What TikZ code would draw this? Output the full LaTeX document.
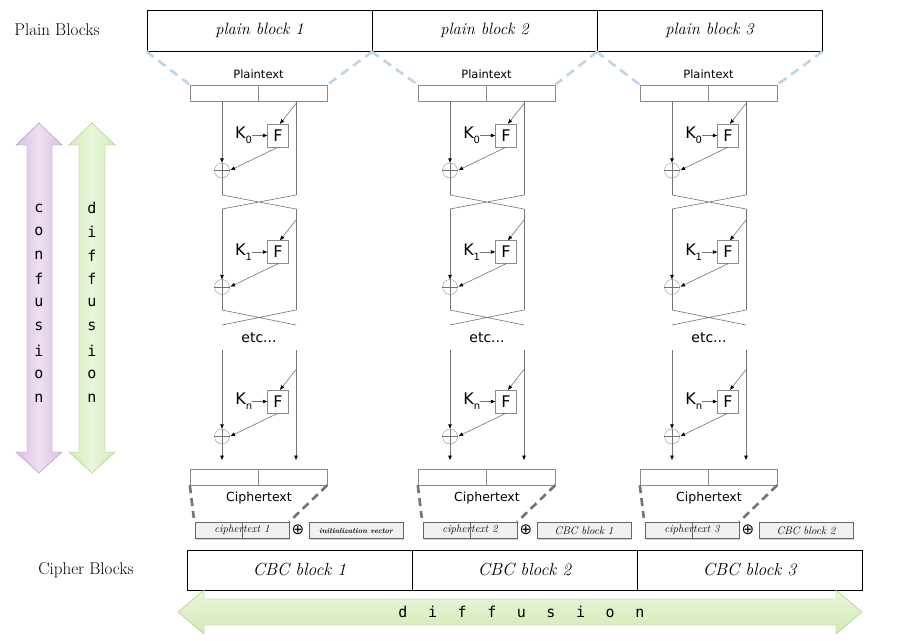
\documentclass[tikz,border=0pt]{standalone}
\usepackage{fontspec}
\newfontfamily\sansf{DejaVu Sans}
\newfontfamily\monof{DejaVu Sans Mono}
\usetikzlibrary{arrows.meta,shadows,positioning}
\definecolor{dashblue}{HTML}{BDD4EB}
\definecolor{confline}{HTML}{A98BBE}
\definecolor{conftop}{HTML}{EEDFF2}
\definecolor{confbot}{HTML}{D9C2E3}
\definecolor{difline}{HTML}{9BCB69}
\definecolor{diftop}{HTML}{EAF6DC}
\definecolor{difbot}{HTML}{D3EAB5}
\newcommand\ivtext{{\fontsize{7.5}{8}\selectfont\bfseries initialization vector}}

\begin{document}
\begin{tikzpicture}[x=1pt,y=-1pt,
  blk/.style={draw,line width=1pt,minimum width=225pt,minimum height=41pt,inner sep=0pt,font=\fontsize{16.5}{18}\selectfont\itshape},
  cbc/.style={blk,minimum height=40pt,font=\fontsize{17.5}{18}\selectfont\itshape},
  side/.style={inner sep=0pt,font=\fontsize{17}{18}\selectfont},
  bar/.style={draw=black!45,minimum width=137pt,minimum height=16pt,inner sep=0pt},
  caption/.style={inner sep=0pt,font=\sansf\fontsize{11.5}{12}\selectfont},
  fbox/.style={draw=black!45,minimum width=21pt,minimum height=23pt,inner sep=0pt,font=\sansf\fontsize{16}{16}\selectfont},
  keytxt/.style={inner sep=0pt,font=\sansf\fontsize{16}{16}\selectfont},
  xor/.style={draw=black!45,circle,minimum size=15pt,inner sep=0pt},
  wire/.style={draw=black!55,line width=0.6pt},
  arr/.style={wire,-{Triangle[length=4.5pt,width=3.5pt,black]}},
  etc/.style={inner sep=0pt,font=\sansf\fontsize{14}{14}\selectfont},
  bluedash/.style={draw=dashblue,line width=2.6pt,dash pattern=on 9pt off 6pt},
  greydash/.style={draw=black!55,line width=2.6pt,dash pattern=on 8pt off 5pt},
  smallbox/.style={draw=black!60,fill=black!6,minimum width=94pt,minimum height=16pt,inner sep=0pt,
    font=\fontsize{11}{11}\selectfont\itshape,drop shadow={shadow xshift=1pt,shadow yshift=-1.5pt,opacity=0.35}},
  spell/.style={inner sep=0pt,font=\monof\fontsize{15}{15}\selectfont}]
\useasboundingbox (0,0) rectangle (904,640);
\fill[white] (0,0) rectangle (904,640);

% block rows
\node[side] (plainlbl) at (57,30) {Plain Blocks};
\node[side] (cipherlbl) at (86,570) {Cipher Blocks};
\foreach \i in {1,2,3}
  \node[blk] (top\i) at ({147+(\i-0.5)*225},30.5) {plain block \i};
\foreach \i in {1,2,3}
  \node[cbc] (cbc\i) at ({187+(\i-0.5)*225},570) {CBC block \i};

% feistel columns
\foreach \i/\dx/\prev in {1/0/\ivtext,2/228/CBC block 1,3/450/CBC block 2}{
\begin{scope}[xshift=\dx pt]
  \node[bar] (ptb\i) at (258.5,93) {};
  \draw[black!45] (ptb\i.north) -- (ptb\i.south);
  \node[caption] (ptl\i) at (258.5,74) {Plaintext};
  \draw[bluedash] (top\i.south west) -- (ptb\i.north west);
  \draw[bluedash] (top\i.south east) -- (ptb\i.north east);
  \foreach \r/\ys/\yf/\ye/\st in {0/101/135.5/195/wire,1/209/252/310/wire,n/350/401.5/460/arr}{
    \node[fbox] (F\r\i) at (278,\yf) {F};
    \node[keytxt,left=15pt of F\r\i] (K\r\i) {K\raisebox{-5pt}{\fontsize{10}{10}\selectfont\r}};
    \node[xor] (X\r\i) at (222,\yf+35) {};
    \coordinate (ls\r\i) at (222,\ys);
    \coordinate (rs\r\i) at (296,\ys);
    \coordinate (le\r\i) at (222,\ye);
    \coordinate (re\r\i) at (296,\ye);
    \coordinate (ds\r\i) at (296,\yf-32);
    \draw[arr] (ls\r\i) -- (X\r\i.north);
    \draw[wire] (X\r\i.north) -- (X\r\i.south) (X\r\i.west) -- (X\r\i.east);
    \draw[\st] (X\r\i.south) -- (le\r\i);
    \draw[\st] (rs\r\i) -- (re\r\i);
    \draw[arr] (ds\r\i) -- ([xshift=2pt]F\r\i.north);
    \draw[arr,shorten >=1pt] (F\r\i.south) -- (X\r\i.east);
    \draw[arr] (K\r\i.east) -- (F\r\i.west);
  }
  \coordinate (lx\i) at (222,325);
  \coordinate (rx\i) at (296,325);
  \draw[wire] (le0\i) -- (rs1\i) (re0\i) -- (ls1\i);
  \draw[wire] (le1\i) -- (rx\i) (re1\i) -- (lx\i);
  \node[etc] (etc\i) at (259,338) {etc...};
  \node[bar] (ctb\i) at (258.5,477) {};
  \draw[black!45] (ctb\i.north) -- (ctb\i.south);
  \node[caption,font=\sansf\fontsize{12.5}{13}\selectfont] (ctl\i) at (259,498) {Ciphertext};
  \node[smallbox] (ct\i) at (242,530) {};
  \draw[black!60] (ct\i.north) -- (ct\i.south);
  \node[inner sep=0pt,font=\fontsize{11}{11}\selectfont\itshape] (ctt\i) at (ct\i) {ciphertext \i};
  \node[inner sep=0pt,font=\sansf\fontsize{15}{15}\selectfont] (op\i) at (298,530) {⊕};
  \node[smallbox] (pv\i) at (356,530.5) {\prev};
  \draw[greydash] (ctb\i.south west) -- ([xshift=-1pt,yshift=4pt]ct\i.north west);
  \draw[greydash] (ctb\i.south east) -- (ct\i.north east);
\end{scope}}

% confusion / diffusion arrows
\draw[confline,left color=confbot,right color=confbot,middle color=conftop] (39,123) -- (62,145) -- (52,145) -- (52,452) -- (62,452)
  -- (39,473) -- (16,452) -- (27,452) -- (27,145) -- (16,145) -- cycle;
\draw[difline,left color=difbot,right color=difbot,middle color=diftop] (92,123) -- (115,145) -- (105,145) -- (105,452) -- (115,452)
  -- (92,473) -- (69,452) -- (79,452) -- (79,145) -- (69,145) -- cycle;
\draw[difline,top color=diftop,bottom color=difbot] (178,612) -- (204,590) -- (204,599) -- (836,599) -- (836,590)
  -- (862,612) -- (836,634) -- (836,625) -- (204,625) -- (204,634) -- cycle;
\foreach \ch [count=\k] in {c,o,n,f,u,s,i,o,n}
  \node[spell] (conf\k) at (39,{208+(\k-1)*23.75}) {\ch};
\foreach \ch [count=\k] in {d,i,f,f,u,s,i,o,n}
  \node[spell] (vdif\k) at (92,{208+(\k-1)*23.75}) {\ch};
\foreach \ch [count=\k] in {d,i,f,f,u,s,i,o,n}
  \node[spell,anchor=base] (hdif\k) at ({403+(\k-1)*29.6},617) {\ch};
\end{tikzpicture}
\end{document}
